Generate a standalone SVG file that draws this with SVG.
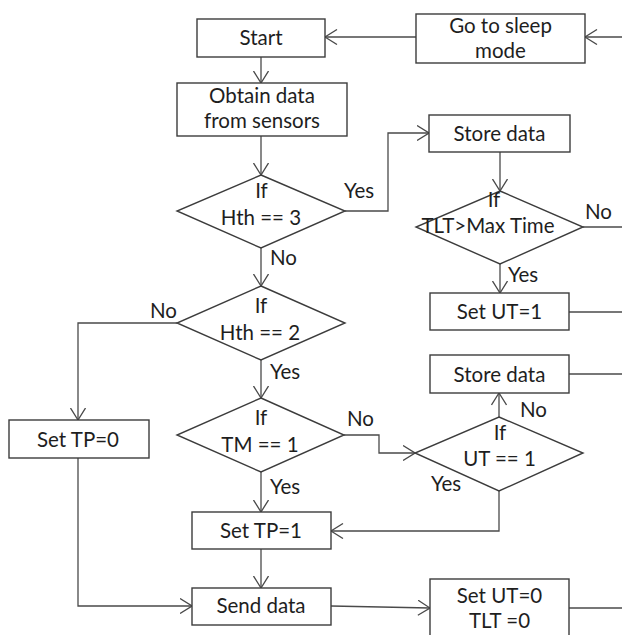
<svg xmlns="http://www.w3.org/2000/svg" width="622" height="635" viewBox="0 0 622 635">
<style>
.n{fill:#fff;stroke:#3c3c3c;stroke-width:1.4}
.c{fill:none;stroke:#4a4a4a;stroke-width:1.3}
text{font-family:Lato,"Open Sans","Liberation Sans",sans-serif;font-size:20.5px;fill:#1e1e1e}
.m{text-anchor:middle}
</style>
<defs>
<marker id="a" viewBox="0 0 13 16" refX="12.5" refY="8" markerWidth="13" markerHeight="16" markerUnits="userSpaceOnUse" orient="auto">
<path d="M0.5,0.5 L12.5,8 L0.5,15.5" fill="none" stroke="#4a4a4a" stroke-width="1.3"/>
</marker>
</defs>
<rect width="622" height="635" fill="#fff"/>
<g id="connectors">
<path class="c" d="M622,37 L585,37" marker-end="url(#a)"/>
<path class="c" d="M416,37 L325,37" marker-end="url(#a)"/>
<path class="c" d="M261,57 L261,83" marker-end="url(#a)"/>
<path class="c" d="M261,136 L261,175" marker-end="url(#a)"/>
<path class="c" d="M345,211 L388,211 L388,133 L429,133" marker-end="url(#a)"/>
<path class="c" d="M261,248 L261,286" marker-end="url(#a)"/>
<path class="c" d="M500,152 L500,191" marker-end="url(#a)"/>
<path class="c" d="M583,227 L622,227"/>
<path class="c" d="M500,264 L500,293" marker-end="url(#a)"/>
<path class="c" d="M569,312 L622,312"/>
<path class="c" d="M177,323 L78,323 L78,420" marker-end="url(#a)"/>
<path class="c" d="M261,360 L261,398" marker-end="url(#a)"/>
<path class="c" d="M344,435 L379,435 L379,453 L415,453" marker-end="url(#a)"/>
<path class="c" d="M499,417 L499,393" marker-end="url(#a)"/>
<path class="c" d="M569,374 L622,374"/>
<path class="c" d="M261,472 L261,512" marker-end="url(#a)"/>
<path class="c" d="M499,491 L499,531 L331,531" marker-end="url(#a)"/>
<path class="c" d="M78,458 L78,606 L192,606" marker-end="url(#a)"/>
<path class="c" d="M261,549 L261,588" marker-end="url(#a)"/>
<path class="c" d="M331,606 L430,608" marker-end="url(#a)"/>
<path class="c" d="M569,608 L622,608"/>
</g>
<g id="sleep"><rect class="n" x="416" y="14" width="169" height="49"/><text class="m" x="500.5" y="33">Go to sleep</text><text class="m" x="500.5" y="58">mode</text></g>
<g id="start"><rect class="n" x="197" y="19" width="128" height="38"/><text class="m" x="261" y="45">Start</text></g>
<g id="obtain"><rect class="n" x="177" y="83" width="170" height="53"/><text class="m" x="262" y="102.5">Obtain data</text><text class="m" x="262" y="128">from sensors</text></g>
<g id="store1"><rect class="n" x="429" y="115" width="141" height="37"/><text class="m" x="499.5" y="141">Store data</text></g>
<g id="hth3"><polygon class="n" points="261,175 345,211 261,248 177,211"/><text class="m" x="261.5" y="198">If</text><text class="m" x="261" y="225">Hth == 3</text></g>
<g id="tlt"><polygon class="n" points="500,191 583,227 500,264 416,227"/><text class="m" x="494" y="207">If</text><text class="m" x="488" y="233">TLT&gt;Max Time</text></g>
<g id="setut1"><rect class="n" x="430" y="293" width="139" height="37"/><text class="m" x="499.5" y="319">Set UT=1</text></g>
<g id="hth2"><polygon class="n" points="261,286 345,323 261,360 177,323"/><text class="m" x="261" y="313">If</text><text class="m" x="260" y="340">Hth == 2</text></g>
<g id="store2"><rect class="n" x="430" y="355" width="139" height="38"/><text class="m" x="499.5" y="381.5">Store data</text></g>
<g id="settp0"><rect class="n" x="9" y="420" width="140" height="38"/><text class="m" x="78" y="446.5">Set TP=0</text></g>
<g id="tm"><polygon class="n" points="261,398 344,435 261,472 177,435"/><text class="m" x="261" y="425">If</text><text class="m" x="260" y="451.5">TM == 1</text></g>
<g id="ut"><polygon class="n" points="499,417 583,453 499,491 415,453"/><text class="m" x="500" y="440">If</text><text class="m" x="499.5" y="465.5">UT == 1</text></g>
<g id="settp1"><rect class="n" x="192" y="512" width="139" height="37"/><text class="m" x="261" y="538">Set TP=1</text></g>
<g id="send"><rect class="n" x="192" y="588" width="139" height="37"/><text class="m" x="261" y="612.5">Send data</text></g>
<g id="setut0"><rect class="n" x="430" y="579" width="139" height="62"/><text class="m" x="499.5" y="602.5">Set UT=0</text><text class="m" x="499.5" y="628">TLT =0</text></g>
<g id="labels">
<text x="344" y="198">Yes</text>
<text x="270" y="265">No</text>
<text x="585" y="219">No</text>
<text x="508" y="282">Yes</text>
<text x="150" y="318">No</text>
<text x="270" y="379">Yes</text>
<text x="347" y="425.5">No</text>
<text x="270" y="494">Yes</text>
<text x="520" y="416.5">No</text>
<text x="431" y="490.5">Yes</text>
</g>
</svg>
